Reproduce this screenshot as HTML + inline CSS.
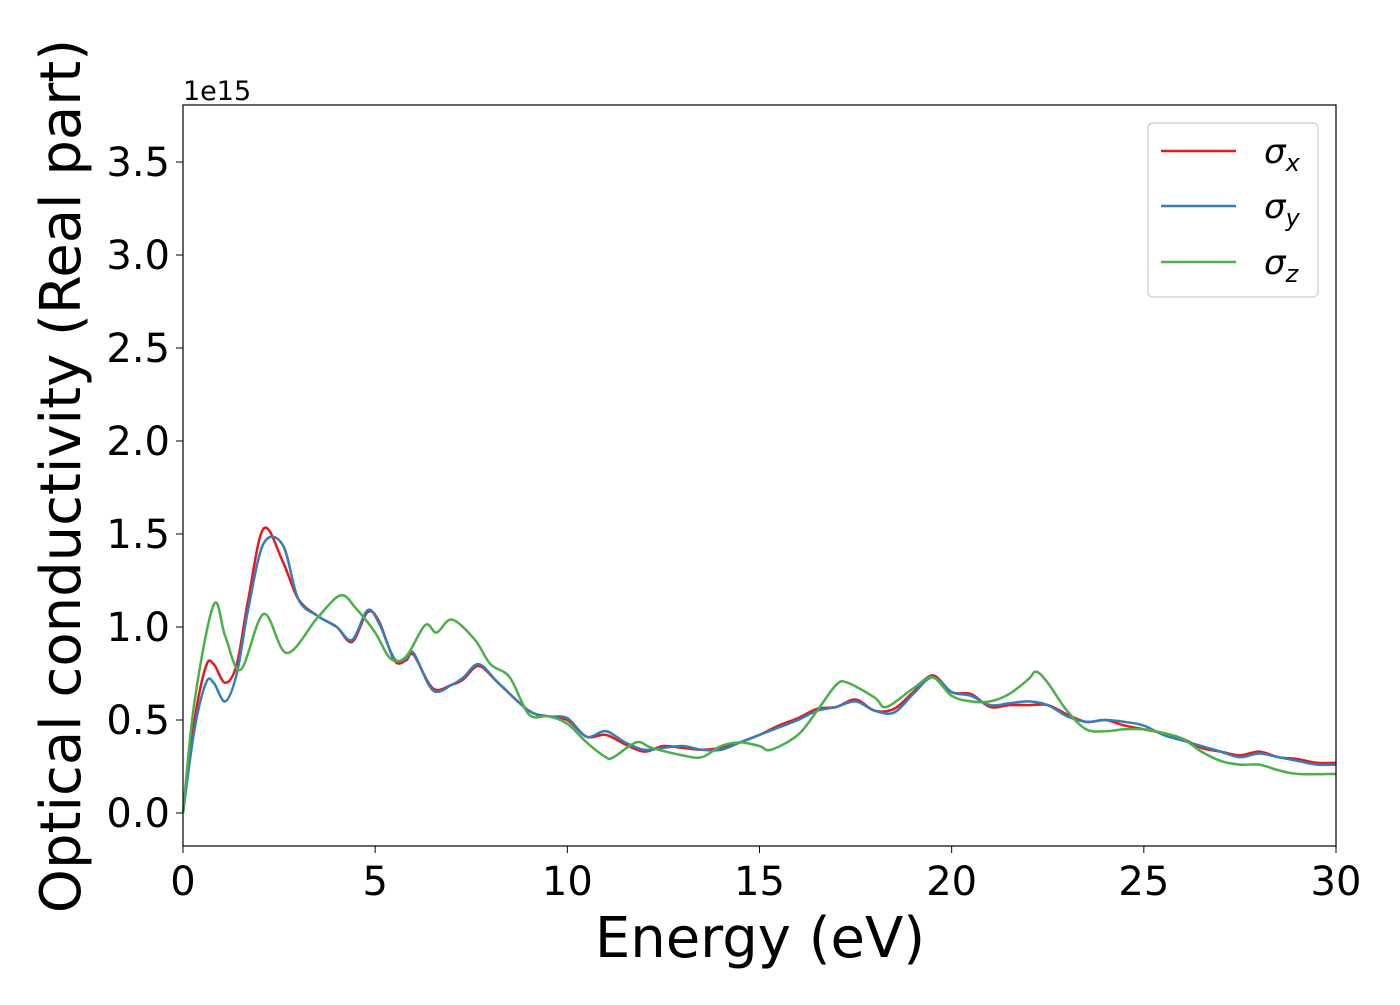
<!DOCTYPE html>
<html><head><meta charset="utf-8"><style>
body{margin:0;background:#fff}
svg{font-family:"DejaVu Sans","Liberation Sans",sans-serif}
</style></head><body>
<svg id="chart" width="1400" height="1000" xmlns="http://www.w3.org/2000/svg">
<rect width="1400" height="1000" fill="#fff"/>
<g id="ticks"></g>
<g id="lines"></g>
<rect x="183" y="105" width="1153" height="741" fill="none" stroke="#000" stroke-width="1.2"/>
<text x="183" y="100" font-size="27">1e15</text>
<text x="760" y="957" font-size="56" text-anchor="middle">Energy (eV)</text>
<text transform="translate(80,476) rotate(-90)" font-size="56" text-anchor="middle">Optical conductivity (Real part)</text>
<g>
<rect x="1148" y="123" width="170" height="174" rx="5" fill="#fff" stroke="#ccc" stroke-width="1.2"/>
<g><line x1="1161" y1="151" x2="1236" y2="151" stroke="#e41a1c" stroke-width="2.5"/><text x="1264" y="163" font-size="34" font-style="italic">σ<tspan font-size="24" dy="8">x</tspan></text></g>
<g><line x1="1161" y1="206" x2="1236" y2="206" stroke="#377eb8" stroke-width="2.5"/><text x="1264" y="218" font-size="34" font-style="italic">σ<tspan font-size="24" dy="8">y</tspan></text></g>
<g><line x1="1161" y1="262" x2="1236" y2="262" stroke="#4daf4a" stroke-width="2.5"/><text x="1264" y="274" font-size="34" font-style="italic">σ<tspan font-size="24" dy="8">z</tspan></text></g>
</g>
</svg>
<script>
const xTicks=[0,5,10,15,20,25,30];
const yTicks=[0.0,0.5,1.0,1.5,2.0,2.5,3.0,3.5];
const sxE=[0,0.3,0.6,0.8,1.1,1.4,1.7,2.1,2.6,3.0,3.5,4.0,4.4,4.8,5.1,5.5,5.8,6.0,6.5,7.0,7.3,7.7,8.2,9.0,9.5,10,10.5,11,11.5,12,12.5,13,13.5,14,14.5,15,15.5,16,16.5,17,17.5,18,18.5,19,19.5,20,20.5,21,21.5,22,22.5,23,23.5,24,24.5,25,25.5,26,26.5,27,27.5,28,28.5,29,29.5,30];
const sxV=[0,0.5,0.79,0.8,0.7,0.8,1.15,1.53,1.35,1.15,1.06,1.0,0.92,1.08,1.03,0.82,0.82,0.85,0.67,0.69,0.72,0.79,0.7,0.55,0.52,0.5,0.41,0.42,0.37,0.33,0.36,0.35,0.34,0.35,0.38,0.42,0.47,0.51,0.56,0.57,0.61,0.55,0.56,0.65,0.74,0.65,0.64,0.57,0.58,0.58,0.58,0.53,0.49,0.5,0.47,0.45,0.43,0.4,0.35,0.33,0.31,0.33,0.3,0.29,0.27,0.27];
const syE=sxE;
const syV=[0,0.45,0.7,0.7,0.6,0.75,1.1,1.45,1.44,1.15,1.06,1.0,0.93,1.09,1.02,0.83,0.83,0.86,0.66,0.69,0.73,0.8,0.7,0.55,0.52,0.51,0.41,0.44,0.38,0.34,0.35,0.36,0.34,0.34,0.38,0.42,0.46,0.5,0.55,0.57,0.6,0.55,0.54,0.64,0.73,0.65,0.63,0.58,0.59,0.6,0.58,0.52,0.49,0.5,0.49,0.47,0.42,0.39,0.36,0.33,0.3,0.32,0.3,0.28,0.26,0.26];
const szE=[0,0.3,0.8,1.1,1.5,2.1,2.7,3.5,4.1,4.5,5.0,5.4,5.8,6.3,6.6,7.0,7.6,8.0,8.5,9.0,9.5,10,10.5,11,11.2,11.8,12.2,13,13.5,14,14.5,15,15.3,16,16.5,17,17.3,18,18.3,19,19.5,20,20.5,21,21.5,22,22.2,22.5,23,23.5,24,24.5,25,25.5,26,26.5,27,27.5,28,28.5,29,30];
const szV=[0,0.6,1.12,0.95,0.77,1.07,0.86,1.05,1.17,1.1,0.97,0.83,0.84,1.01,0.97,1.04,0.93,0.8,0.73,0.53,0.52,0.48,0.38,0.3,0.3,0.38,0.35,0.31,0.3,0.36,0.38,0.36,0.34,0.42,0.55,0.69,0.7,0.62,0.57,0.67,0.73,0.63,0.6,0.6,0.64,0.72,0.76,0.7,0.55,0.45,0.44,0.45,0.45,0.43,0.4,0.33,0.28,0.26,0.26,0.23,0.21,0.21];
const xs=e=>183+e*(1153/30);
const ys=v=>813-v*186;
const NS='http://www.w3.org/2000/svg';
const tg=document.getElementById('ticks');
xTicks.forEach(t=>{
 const l=document.createElementNS(NS,'line');
 l.setAttribute('x1',xs(t));l.setAttribute('x2',xs(t));l.setAttribute('y1',846);l.setAttribute('y2',853);l.setAttribute('stroke','#000');
 
 
 tg.appendChild(l);
 const tx=document.createElementNS(NS,'text');
 tx.setAttribute('x',xs(t));tx.setAttribute('y',895);tx.setAttribute('font-size','40');tx.setAttribute('text-anchor','middle');tx.textContent=t;
 
 
 tg.appendChild(tx);
});
yTicks.forEach(t=>{
 const l=document.createElementNS(NS,'line');
 l.setAttribute('x1',176);l.setAttribute('x2',183);l.setAttribute('y1',ys(t));l.setAttribute('y2',ys(t));l.setAttribute('stroke','#000');
 
 
 tg.appendChild(l);
 const tx=document.createElementNS(NS,'text');
 tx.setAttribute('x',170);tx.setAttribute('y',ys(t)+14);tx.setAttribute('font-size','40');tx.setAttribute('text-anchor','end');tx.textContent=t.toFixed(1);
 
 
 tg.appendChild(tx);
});
function path(E,V){
 const p=E.map((e,i)=>[xs(e),ys(V[i])]);
 let d='M'+p[0][0]+','+p[0][1];
 for(let i=0;i<p.length-1;i++){
  const p0=p[Math.max(0,i-1)],p1=p[i],p2=p[i+1],p3=p[Math.min(p.length-1,i+2)];
  const c1=[p1[0]+(p2[0]-p0[0])/6,p1[1]+(p2[1]-p0[1])/6];
  const c2=[p2[0]-(p3[0]-p1[0])/6,p2[1]-(p3[1]-p1[1])/6];
  d+=` C${c1[0]},${c1[1]} ${c2[0]},${c2[1]} ${p2[0]},${p2[1]}`;
 }
 return d;
}
const lg=document.getElementById('lines');
[[sxE,sxV,'#e41a1c','sigma-x-line'],[syE,syV,'#377eb8','sigma-y-line'],[szE,szV,'#4daf4a','sigma-z-line']].forEach(s=>{
 const el=document.createElementNS(NS,'path');
 el.setAttribute('d',path(s[0],s[1]));el.setAttribute('fill','none');el.setAttribute('stroke',s[2]);el.setAttribute('stroke-width','2.5');
 
 
 lg.appendChild(el);
});
</script>
</body></html>
